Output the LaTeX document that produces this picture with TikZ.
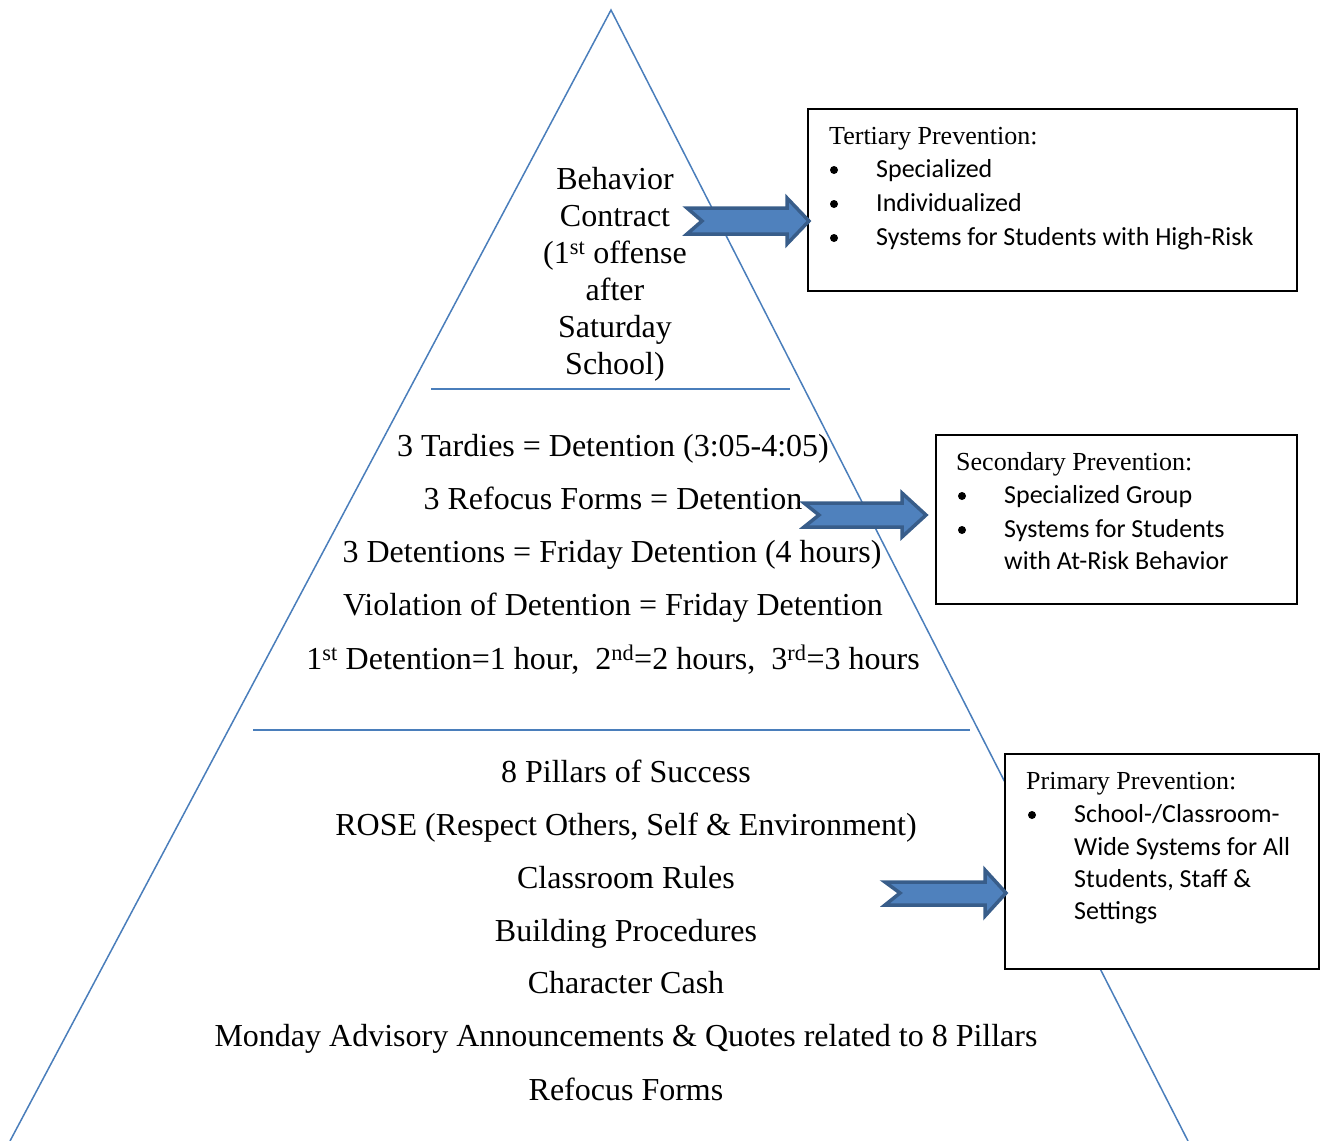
\documentclass[tikz,border=0pt]{standalone}
\usepackage{fontspec}
\setmainfont{Liberation Serif}
\newfontfamily\calib{Carlito}
\definecolor{tri}{HTML}{4A7EBB}
\definecolor{arrfill}{HTML}{4F81BD}
\definecolor{arrline}{HTML}{385D8A}
\begin{document}
\begin{tikzpicture}[x=1pt,y=-1pt,
  edge/.style={draw=tri,line width=1.5pt},
  big/.style={font=\fontsize{32}{37}\selectfont,inner sep=0pt,anchor=center,text height=22pt,text depth=7pt},
  boxr/.style={draw=black,line width=2pt,fill=white},
  head/.style={font=\fontsize{26}{30}\selectfont,inner sep=0pt,anchor=west,text height=18pt,text depth=6pt},
  item/.style={font=\calib\fontsize{26}{32}\selectfont,inner sep=0pt,anchor=west,text height=18pt,text depth=6pt},
  bul/.style={fill=black,circle,inner sep=0pt,minimum size=8pt},
  blockarrow/.style={fill=arrfill,draw=arrline,line width=3.5pt,line join=miter}]
\useasboundingbox (0,0) rectangle (1326,1141);
% pyramid
\coordinate (apex) at (611,10);
\coordinate (bl) at (10,1141);
\coordinate (br) at (1188,1141);
\draw[edge] (bl) -- (apex) -- (br);
\coordinate (l1a) at (431,389); \coordinate (l1b) at (790,389);
\coordinate (l2a) at (253,730); \coordinate (l2b) at (970,730);
\draw[edge] (l1a) -- (l1b);
\draw[edge] (l2a) -- (l2b);
% top tier
\node[font=\fontsize{32}{37}\selectfont,inner sep=0pt,align=center] (top) at (615,274) {Behavior\\Contract\\(1\textsuperscript{st} offense\\after\\Saturday\\School)};
% middle tier
\node[big] (m1) at (613,449) {3 Tardies = Detention (3:05-4:05)};
\node[big] (m2) at (613,502) {3 Refocus Forms = Detention};
\node[big] (m3) at (612,555) {3 Detentions = Friday Detention (4 hours)};
\node[big] (m4) at (613,608) {Violation of Detention = Friday Detention};
\node[big] (m5) at (613,662) {1\textsuperscript{st} Detention=1 hour,\ \ 2\textsuperscript{nd}=2 hours,\ \ 3\textsuperscript{rd}=3 hours};
% bottom tier
\node[big] (b1) at (626,775) {8 Pillars of Success};
\node[big] (b2) at (626,828) {ROSE (Respect Others, Self \& Environment)};
\node[big] (b3) at (626,881) {Classroom Rules};
\node[big] (b4) at (626,934) {Building Procedures};
\node[big] (b5) at (626,986) {Character Cash};
\node[big] (b6) at (626,1039) {Monday Advisory Announcements \& Quotes related to 8 Pillars};
\node[big] (b7) at (626,1093) {Refocus Forms};
% boxes
\draw[boxr] (808,109) rectangle (1297,291);
\node[head] (h1) at (829,138) {Tertiary Prevention:};
\node[bul] (u11) at (834,170) {};
\node[item] (i11) at (876,171) {Specialized};
\node[bul] (u12) at (834,204) {};
\node[item] (i12) at (876,205) {Individualized};
\node[bul] (u13) at (834,238) {};
\node[item] (i13) at (876,239) {Systems for Students with High-Risk};

\draw[boxr] (936,435) rectangle (1297,604);
\node[head] (h2) at (956,464) {Secondary Prevention:};
\node[bul] (u21) at (962,496) {};
\node[item] (i21) at (1004,497) {Specialized Group};
\node[bul] (u22) at (962,530) {};
\node[item] (i22) at (1004,531) {Systems for Students};
\node[item] (i23) at (1004,563) {with At-Risk Behavior};

\draw[boxr] (1005,754) rectangle (1319,969);
\node[head] (h3) at (1026,783) {Primary Prevention:};
\node[bul] (u31) at (1032,815) {};
\node[item] (i31) at (1074,816) {School-/Classroom-};
\node[item] (i32) at (1074,849) {Wide Systems for All};
\node[item] (i33) at (1074,881) {Students, Staff \&};
\node[item] (i34) at (1074,913) {Settings};
% block arrows
\draw[blockarrow] (687,208) -- (787,208) -- (787,198) -- (809,221) -- (787,244) -- (787,234) -- (687,234) -- (702,221) -- cycle;
\draw[blockarrow] (804,503) -- (902,503) -- (902,493) -- (926,515) -- (902,537) -- (902,527) -- (804,527) -- (819,515) -- cycle;
\draw[blockarrow] (885,882) -- (985,882) -- (985,870) -- (1006,893) -- (985,916) -- (985,905) -- (885,905) -- (900,893) -- cycle;
\end{tikzpicture}
\end{document}
